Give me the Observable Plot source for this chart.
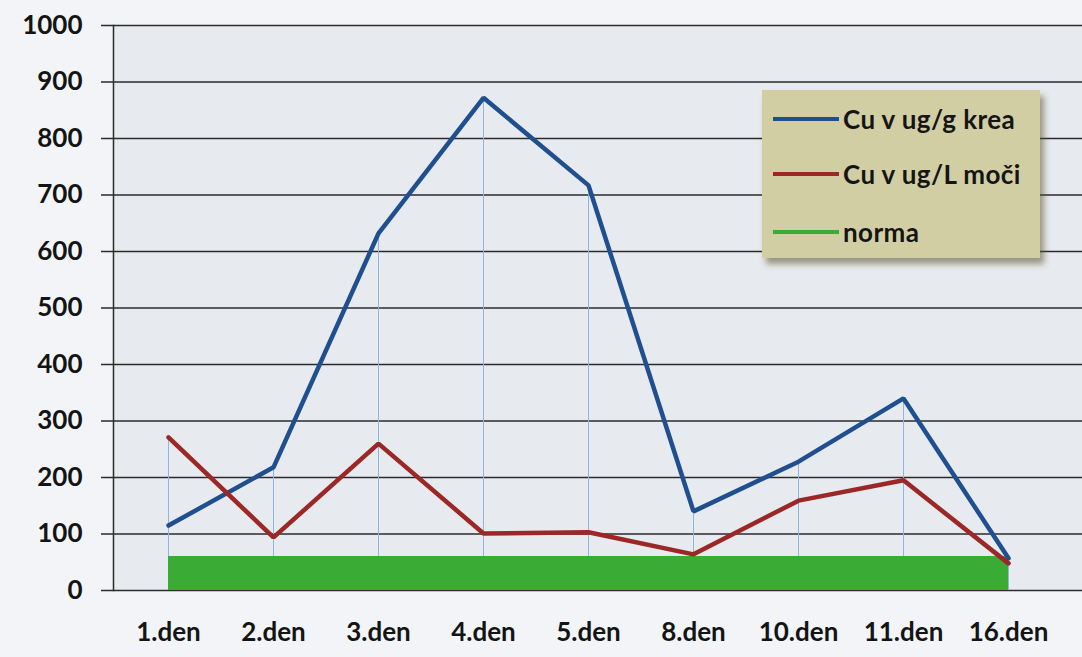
<!DOCTYPE html>
<html>
<head>
<meta charset="utf-8">
<script src="https://cdn.jsdelivr.net/npm/d3@7"></script>
<script src="https://cdn.jsdelivr.net/npm/@observablehq/plot@0.6"></script>
<style>
  html, body { margin: 0; padding: 0; background: #f2f4f7; }
  #wrap { position: relative; width: 1082px; height: 657px; overflow: hidden; }
  #legend {
    position: absolute; left: 762px; top: 90px; width: 278px; height: 168px;
    background: #d2cea3; box-shadow: 4px 6px 6px rgba(90,80,40,0.55);
    font-family: Lato, "Open Sans", sans-serif; font-weight: 700; font-size: 26px; color: #151515;
    letter-spacing: 0.4px;
  }
  .item { position: absolute; left: 11px; height: 32px; display: flex; align-items: center; white-space: nowrap; }
  .swatch { width: 66px; height: 4px; margin-right: 4px; }
</style>
</head>
<body>
<div id="wrap"></div>
<script>
const days = ["1.den", "2.den", "3.den", "4.den", "5.den", "8.den", "10.den", "11.den", "16.den"];
const cuKrea = [115, 218, 632, 872, 717, 140, 228, 340, 57];
const cuMoci = [271, 94, 260, 101, 103, 64, 159, 195, 48];
const norma = [60, 60, 60, 60, 60, 60, 60, 60, 60];
const yTicks = [0, 100, 200, 300, 400, 500, 600, 700, 800, 900, 1000];
const seriesNames = ["Cu v ug/g krea", "Cu v ug/L moči", "norma"];
const seriesColors = ["#1f4f8f", "#9b2727", "#3aab35"];

const rows = days.map((d, i) => ({day: d, krea: cuKrea[i], moci: cuMoci[i], norma: norma[i],
  top: Math.max(cuKrea[i], cuMoci[i], norma[i])}));

const chart = Plot.plot({
  width: 1082,
  height: 657,
  marginLeft: 113,
  marginRight: 0,
  marginTop: 25,
  marginBottom: 67,
  style: {fontFamily: "Lato, 'Open Sans', sans-serif", fontSize: "26px", fontWeight: "700", color: "#141414", background: "transparent"},
  x: {type: "point", domain: days, padding: 0.5, insetRight: 20, label: null},
  y: {domain: [0, 1000], label: null},
  marks: [
    Plot.frame({fill: "#e7eaee", stroke: null}),
    Plot.gridY(yTicks, {stroke: "#2b2b2b", strokeOpacity: 1, strokeWidth: 1.5}),
    Plot.ruleX(rows, {x: "day", y1: 0, y2: "top", stroke: "#8fb6e0", strokeWidth: 1}),
    Plot.areaY(rows, {x: "day", y: "norma", fill: seriesColors[2], curve: "linear"}),
    Plot.line(rows, {x: "day", y: "krea", stroke: seriesColors[0], strokeWidth: 4.5, strokeLinejoin: "miter"}),
    Plot.line(rows, {x: "day", y: "moci", stroke: seriesColors[1], strokeWidth: 4.5, strokeLinejoin: "miter"}),
    Plot.frame({anchor: "left", stroke: "#2b2b2b", strokeWidth: 1.5}),
    Plot.axisY(yTicks, {tickSize: 12, tickPadding: 19, stroke: "#2b2b2b", strokeWidth: 1.5, label: null, tickFormat: d => String(d)}),
    Plot.axisX({tickSize: 0, tickPadding: 32, label: null})
  ]
});
const wrap = document.getElementById("wrap");
wrap.appendChild(chart);

const legend = document.createElement("div");
legend.id = "legend";
const tops = [13, 68, 126];
seriesNames.forEach((name, i) => {
  const it = document.createElement("div");
  it.className = "item";
  it.style.top = tops[i] + "px";
  it.innerHTML = `<div class="swatch" style="background:${seriesColors[i]}"></div><span>${name}</span>`;
  legend.appendChild(it);
});
wrap.appendChild(legend);
</script>
</body>
</html>
